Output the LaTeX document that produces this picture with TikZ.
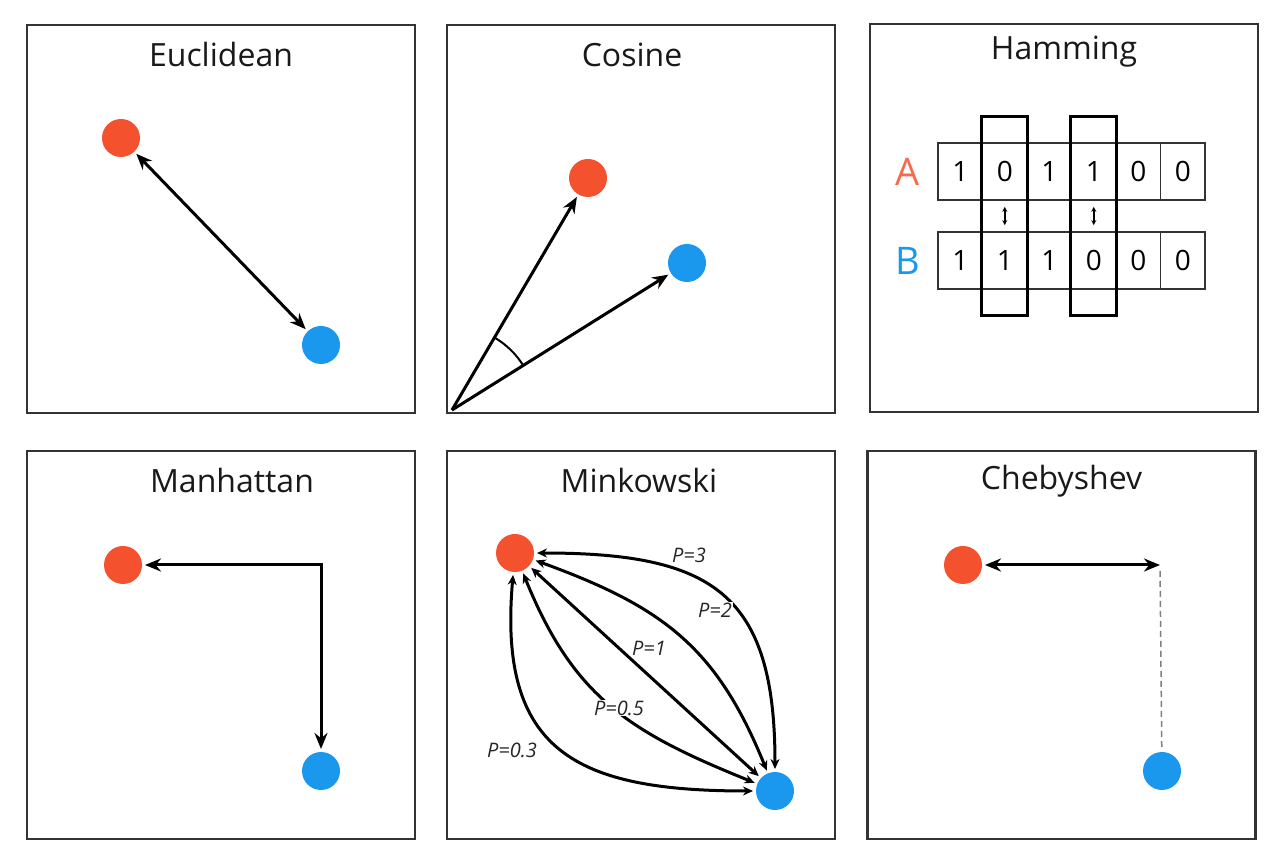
\documentclass[tikz,border=0pt]{standalone}
\usepackage{fontspec}
\setmainfont{Open Sans}
\usetikzlibrary{arrows.meta,angles,fit,positioning}
\definecolor{dotred}{HTML}{F4512F}
\definecolor{dotblue}{HTML}{1A98EE}
\definecolor{framegray}{HTML}{333333}

\begin{document}
\begin{tikzpicture}[
  x=1pt, y=1pt,
  >={Stealth[length=16pt,width=13pt]},
  panel/.style={draw=framegray, line width=2.5pt, minimum width=388pt, minimum height=388pt, inner sep=0},
  title/.style={font=\fontsize{32}{34}\selectfont, text=black!90},
  reddot/.style={circle, fill=dotred, minimum size=38pt, inner sep=0, outer sep=3pt},
  bluedot/.style={reddot, fill=dotblue},
  link/.style={line width=3pt, black},
  cell/.style={draw=black!80, line width=1.6pt, minimum width=44.5pt, minimum height=57pt, inner sep=0, font=\fontsize{28}{30}\selectfont},
  column/.style={draw=black, line width=3.2pt, inner xsep=0pt, inner ysep=26pt},
  rowname/.style={font=\fontsize{38}{40}\selectfont},
  plabel/.style={font=\fontsize{20}{22}\selectfont\itshape, text=black!85, fill=white, inner sep=1pt},
  minkarrow/.style={link, {Stealth[length=10pt,width=9pt]}-{Stealth[length=10pt,width=9pt]}}
]
  \useasboundingbox (0,0) rectangle (1278,868);

  % panels and titles
  \node[panel] (p1) at (221,649) {};
  \node[panel] (p2) at (641,649) {};
  \node[panel] (p3) at (1064,650) {};
  \node[panel] (p4) at (221,223) {};
  \node[panel] (p5) at (641,223) {};
  \node[panel] (p6) at (1061.5,223) {};
  \node[title] (t1) at ([yshift=-31pt]p1.north) {Euclidean};
  \node[title] (t2) at ([xshift=-9pt,yshift=-31pt]p2.north) {Cosine};
  \node[title] (t3) at ([yshift=-29pt]p3.north) {Hamming};
  \node[title] (t4) at ([xshift=11pt,yshift=-31pt]p4.north) {Manhattan};
  \node[title] (t5) at ([xshift=-2pt,yshift=-31pt]p5.north) {Minkowski};
  \node[title] (t6) at ([yshift=-31pt]p6.north) {Chebyshev};

  % Euclidean
  \node[reddot] (er) at (121,730) {};
  \node[bluedot] (eb) at (321,523) {};
  \draw[link,<->] (er) -- (eb);

  % Cosine
  \coordinate (co) at (452,458);
  \node[reddot] (cr) at (588,690) {};
  \node[bluedot] (cb) at (687,605) {};
  \draw[link,->] (co) -- (cr);
  \draw[link,->] (co) -- (cb);
  \pic[draw, line width=2pt, angle radius=84pt] {angle = cb--co--cr};

  % Hamming
  \foreach \d [count=\i] in {1,0,1,1,0,0}
    \node[cell] (a\i) at ({938+44.5*(\i-0.5)},696.5) {\d};
  \foreach \d [count=\i] in {1,1,1,0,0,0}
    \node[cell] (b\i) at ({938+44.5*(\i-0.5)},607.5) {\d};
  \node[rowname, text=dotred!85!white, left=14pt of a1] (la) {A};
  \node[rowname, text=dotblue, left=14pt of b1] (lb) {B};
  \node[column, fit=(a2)(b2)] (c2) {};
  \node[column, fit=(a4)(b4)] (c4) {};
  \foreach \i in {2,4}
    \draw[line width=1.6pt, {Stealth[length=5pt,width=5pt]}-{Stealth[length=5pt,width=5pt]}, shorten <=6pt, shorten >=6pt] (a\i) -- (b\i);

  % Manhattan
  \node[reddot] (mhr) at (123,303) {};
  \node[bluedot] (mhb) at (321,97) {};
  \coordinate (mhc) at (321,303);
  \draw[link,<->] (mhr) -- (mhc) -- (mhb);

  % Minkowski
  \node[reddot] (mr) at (515,315) {};
  \node[bluedot] (mb) at (775,77) {};
  \draw[minkarrow] (mr) to[out=0,in=90,looseness=1.4] (mb);
  \draw[minkarrow] (mr) to[out=-20,in=112,looseness=1.1] (mb);
  \draw[minkarrow] (mr) -- (mb);
  \draw[minkarrow] (mr) to[out=-68,in=158,looseness=1.1] (mb);
  \draw[minkarrow] (mr) to[out=-95,in=180,looseness=1.4] (mb);
  \node[plabel] (l3) at (689,313) {P=3};
  \node[plabel] (l2) at (715,258) {P=2};
  \node[plabel] (l1) at (649,220) {P=1};
  \node[plabel] (l05) at (619,160) {P=0.5};
  \node[plabel] (l03) at (512,118) {P=0.3};

  % Chebyshev
  \node[reddot] (cyr) at (963,303) {};
  \node[bluedot] (cyb) at (1162,97) {};
  \coordinate (cyc) at (1160,303);
  \draw[link,<->] (cyr) -- (cyc);
  \draw[gray, line width=1.5pt, dash pattern=on 6pt off 4pt, shorten <=6pt] (cyc) -- (cyb);
\end{tikzpicture}
\end{document}
